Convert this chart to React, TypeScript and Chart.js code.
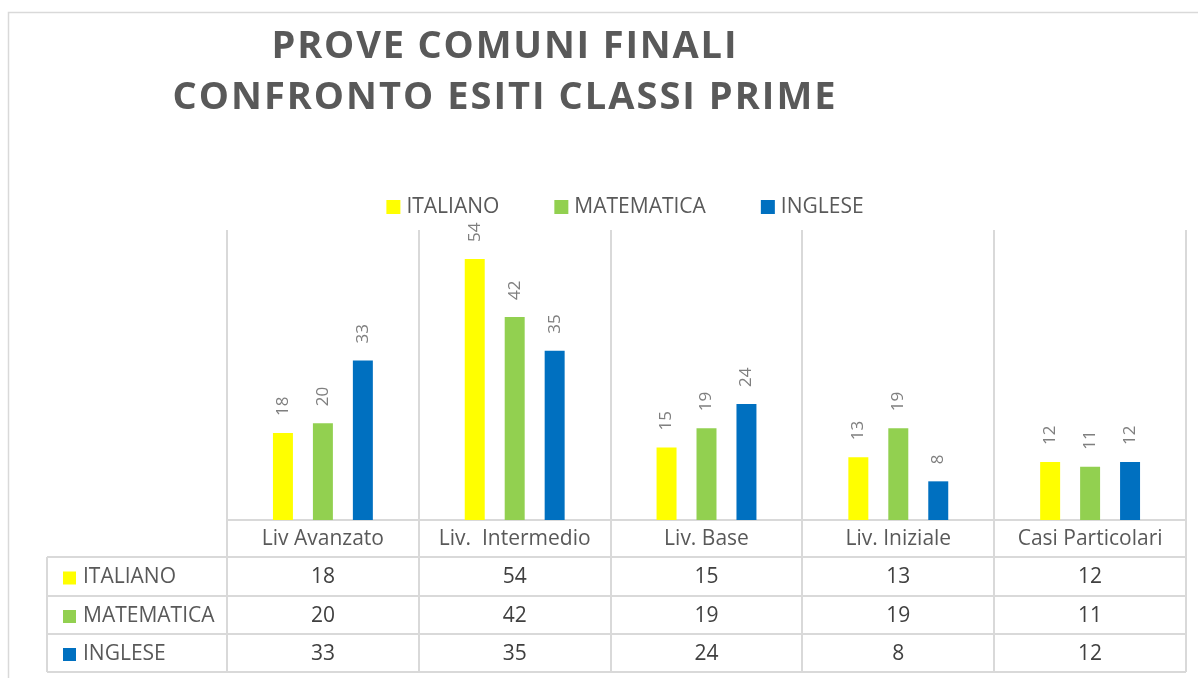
import React, { useEffect, useRef } from "react";
import { Chart, registerables } from "chart.js";

Chart.register(...registerables);

const categories = ["Liv Avanzato", "Liv.  Intermedio", "Liv. Base", "Liv. Iniziale", "Casi Particolari"];
const seriesNames = ["ITALIANO", "MATEMATICA", "INGLESE"];
const italiano = [18, 54, 15, 13, 12];
const matematica = [20, 42, 19, 19, 11];
const inglese = [33, 35, 24, 8, 12];
const seriesColors = ["#FFFF00", "#92D050", "#0070C0"];
const titleLines = ["PROVE COMUNI FINALI", "CONFRONTO ESITI CLASSI PRIME"];

const FONT = "'Open Sans', Lato, sans-serif";
const GRID = "#d9d9d9";
const TEXT = "#595959";

function drawSpaced(ctx: CanvasRenderingContext2D, text: string, cx: number, y: number, target: number) {
  const chars = text.split("");
  const widths = chars.map((c) => ctx.measureText(c).width);
  const raw = widths.reduce((a, b) => a + b, 0);
  const sp = (target - raw) / (chars.length - 1);
  let x = cx - target / 2;
  ctx.textAlign = "left";
  chars.forEach((c, i) => {
    ctx.fillText(c, x, y);
    x += widths[i] + sp;
  });
}

const decorPlugin = {
  id: "decor",
  beforeDatasetsDraw(chart: any) {
    const ctx: CanvasRenderingContext2D = chart.ctx;
    const area = chart.chartArea;
    const xs = chart.scales.x;
    const n = categories.length;
    const cw = (area.right - area.left) / n;
    ctx.save();
    // outer border
    ctx.strokeStyle = GRID;
    ctx.lineWidth = 1.5;
    ctx.beginPath();
    ctx.moveTo(8.5, 678);
    ctx.lineTo(8.5, 12.5);
    ctx.lineTo(1198, 12.5);
    ctx.stroke();

    // title
    ctx.fillStyle = TEXT;
    ctx.textBaseline = "alphabetic";
    ctx.font = `bold 38px ${FONT}`;
    drawSpaced(ctx, titleLines[0], 504, 58, 465);
    drawSpaced(ctx, titleLines[1], 504, 109, 663);

    // legend
    ctx.font = `21px ${FONT}`;
    ctx.textBaseline = "middle";
    const gapBox = 6, gapItem = 55, box = 14;
    const widths = seriesNames.map((s) => ctx.measureText(s).width);
    const total = widths.reduce((a, w) => a + box + gapBox + w, 0) + gapItem * (seriesNames.length - 1);
    let lx = 625 - total / 2;
    seriesNames.forEach((s, i) => {
      ctx.fillStyle = seriesColors[i];
      ctx.fillRect(lx, 200, box, box);
      ctx.fillStyle = TEXT;
      ctx.textAlign = "left";
      ctx.fillText(s, lx + box + gapBox, 207);
      lx += box + gapBox + widths[i] + gapItem;
    });

    // grid / table lines
    const tableLeft = 47;
    const rows = [area.bottom, area.bottom + 37, area.bottom + 76, area.bottom + 114, area.bottom + 152];
    ctx.strokeStyle = GRID;
    ctx.lineWidth = 2;
    ctx.beginPath();
    for (let i = 0; i <= n; i++) {
      const x = Math.round(area.left + i * cw);
      ctx.moveTo(x, area.top);
      ctx.lineTo(x, rows[4]);
    }
    ctx.moveTo(area.left, rows[0]);
    ctx.lineTo(area.right, rows[0]);
    for (let r = 1; r < rows.length; r++) {
      ctx.moveTo(tableLeft, rows[r]);
      ctx.lineTo(area.right, rows[r]);
    }
    ctx.moveTo(tableLeft, rows[1]);
    ctx.lineTo(tableLeft, rows[4]);
    ctx.stroke();

    // header labels
    ctx.font = `21px ${FONT}`;
    ctx.fillStyle = TEXT;
    ctx.textAlign = "center";
    ctx.textBaseline = "middle";
    categories.forEach((c, i) => {
      ctx.fillText(c, xs.getPixelForValue(i), (rows[0] + rows[1]) / 2 + 1);
    });
    // rows
    const data = [italiano, matematica, inglese];
    data.forEach((vals, r) => {
      const cy = (rows[r + 1] + rows[r + 2]) / 2 + 1;
      ctx.fillStyle = seriesColors[r];
      ctx.fillRect(63, cy - 6, 13, 13);
      ctx.fillStyle = TEXT;
      ctx.textAlign = "left";
      ctx.fillText(seriesNames[r], 83, cy);
      ctx.fillStyle = "#404040";
      ctx.textAlign = "center";
      vals.forEach((v, i) => {
        ctx.fillText(String(v), xs.getPixelForValue(i), cy);
      });
    });
    ctx.restore();
  },
  afterDatasetsDraw(chart: any) {
    const ctx: CanvasRenderingContext2D = chart.ctx;
    ctx.save();
    ctx.font = `17px ${FONT}`;
    ctx.fillStyle = "#7f7f7f";
    ctx.textAlign = "left";
    ctx.textBaseline = "middle";
    chart.data.datasets.forEach((ds: any, di: number) => {
      const meta = chart.getDatasetMeta(di);
      meta.data.forEach((bar: any, i: number) => {
        ctx.save();
        ctx.translate(bar.x, bar.y - 17);
        ctx.rotate(-Math.PI / 2);
        ctx.fillText(String(ds.data[i]), 0, 0);
        ctx.restore();
      });
    });
    ctx.restore();
  },
};

export default function App() {
  const ref = useRef<HTMLCanvasElement>(null);
  useEffect(() => {
    document.body.style.margin = "0";
    const canvas = ref.current!;
    const chart = new Chart(canvas, {
      type: "bar",
      data: {
        labels: categories,
        datasets: [italiano, matematica, inglese].map((d, i) => ({
          label: seriesNames[i],
          data: d,
          backgroundColor: seriesColors[i],
          categoryPercentage: 0.625,
          barPercentage: 0.5,
        })),
      },
      options: {
        responsive: false,
        animation: false,
        devicePixelRatio: 1,
        layout: { padding: { left: 227, right: 12, top: 230, bottom: 158 } },
        scales: {
          x: { display: false },
          y: { display: false, min: 0, max: 60 },
        },
        plugins: {
          legend: { display: false },
          title: { display: false },
          tooltip: { enabled: false },
        },
      },
      plugins: [decorPlugin],
    });
    return () => chart.destroy();
  }, []);
  return (
    <div style={{ position: "fixed", left: 0, top: 0, width: 1198, height: 678, background: "#fff" }}>
      <canvas ref={ref} width={1198} height={678} style={{ display: "block" }} />
    </div>
  );
}
